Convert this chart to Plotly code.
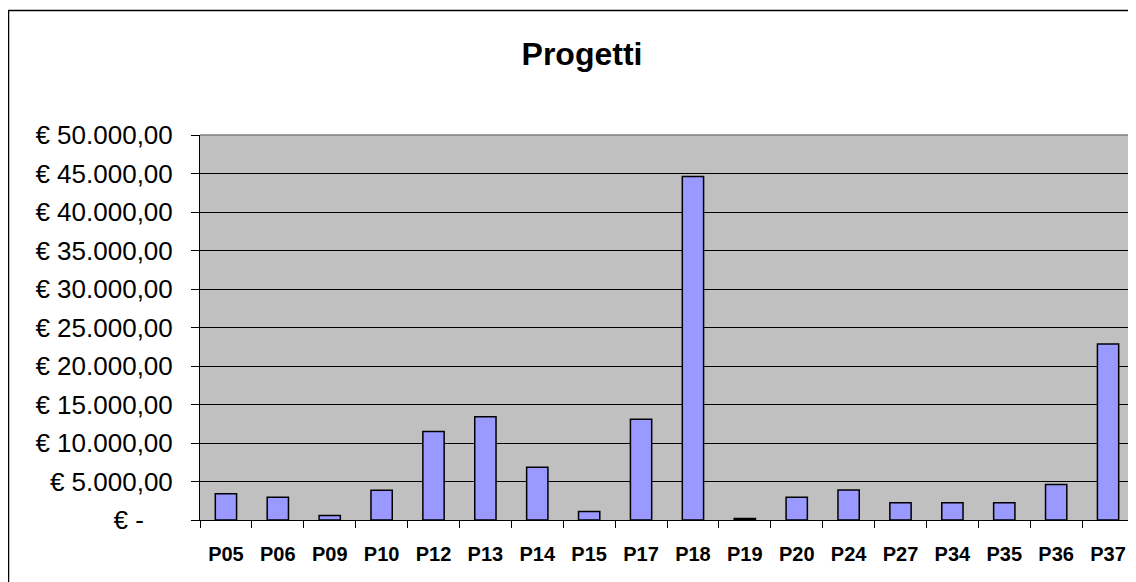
import plotly.graph_objects as go

categories = ["P05", "P06", "P09", "P10", "P12", "P13", "P14", "P15", "P17",
              "P18", "P19", "P20", "P24", "P27", "P34", "P35", "P36", "P37"]
values = [3400, 2950, 600, 3850, 11500, 13400, 6850, 1100, 13100,
          44600, 200, 2950, 3900, 2250, 2250, 2250, 4600, 22850]
y_tickvals = [0, 5000, 10000, 15000, 20000, 25000, 30000, 35000, 40000, 45000, 50000]
y_ticktext = ["€ -\u00a0\u00a0\u00a0\u00a0", "€ 5.000,00", "€ 10.000,00", "€ 15.000,00", "€ 20.000,00",
              "€ 25.000,00", "€ 30.000,00", "€ 35.000,00", "€ 40.000,00", "€ 45.000,00",
              "€ 50.000,00"]

# page has an 8px body margin, so the figure is laid out 8px smaller and offset
OFF = 8
W, H = 1136 - OFF, 582 - OFF
L, R, T, B = 200 - OFF, 2, 135 - OFF, 62
pw, ph = W - L - R, H - T - B

fig = go.Figure(go.Bar(
    x=categories, y=values,
    marker=dict(color="#9999FF", line=dict(color="#000000", width=1.5)),
    hoverinfo="x+y",
))

fig.update_layout(
    width=W, height=H,
    margin=dict(l=L, r=R, t=T, b=B, autoexpand=False),
    paper_bgcolor="#FFFFFF",
    plot_bgcolor="#C0C0C0",
    bargap=0.59,
    showlegend=False,
    font=dict(family="Liberation Sans, Arial, sans-serif", color="#000000"),
    title=dict(text="<b>Progetti</b>", x=(582 - OFF) / W, xanchor="center", xref="container",
               y=1 - (54 - OFF) / H, yanchor="middle", yref="container",
               font=dict(size=32, color="#000000")),
)

fig.update_xaxes(
    type="category",
    tickvals=categories, ticktext=[f"<b>{c}</b>" for c in categories],
    showline=True, linecolor="#000000", linewidth=1,
    ticks="outside", tickson="boundaries", ticklen=7, tickcolor="#000000", tickwidth=1,
    tickfont=dict(size=20, color="#000000"),
    ticklabelstandoff=16,
    showgrid=False,
)

fig.update_yaxes(
    range=[0, 50000],
    tickvals=y_tickvals, ticktext=y_ticktext,
    showline=True, linecolor="#000000", linewidth=1,
    ticks="outside", ticklen=8, tickcolor="#000000", tickwidth=1,
    tickfont=dict(size=26, color="#000000"),
    ticklabelstandoff=13,
    showgrid=True, gridcolor="#000000", gridwidth=1,
    zeroline=False,
)

# plot-area border (top & right grey)
fig.add_shape(type="line", xref="paper", yref="paper", x0=0, x1=1, y0=1, y1=1,
              line=dict(color="#808080", width=1.5), layer="above")
fig.add_shape(type="line", xref="paper", yref="paper", x0=1, x1=1, y0=0, y1=1,
              line=dict(color="#808080", width=1.5), layer="above")
# outer chart frame
fig.add_shape(type="rect", xref="paper", yref="paper",
              x0=(8.5 - OFF - L) / pw, x1=(W + 10 - L) / pw,
              y0=(ph - (H + 10 - T)) / ph, y1=(ph - (10.5 - OFF - T)) / ph,
              line=dict(color="#000000", width=1.5), fillcolor="rgba(0,0,0,0)", layer="above")

fig.write_html("out.html")
